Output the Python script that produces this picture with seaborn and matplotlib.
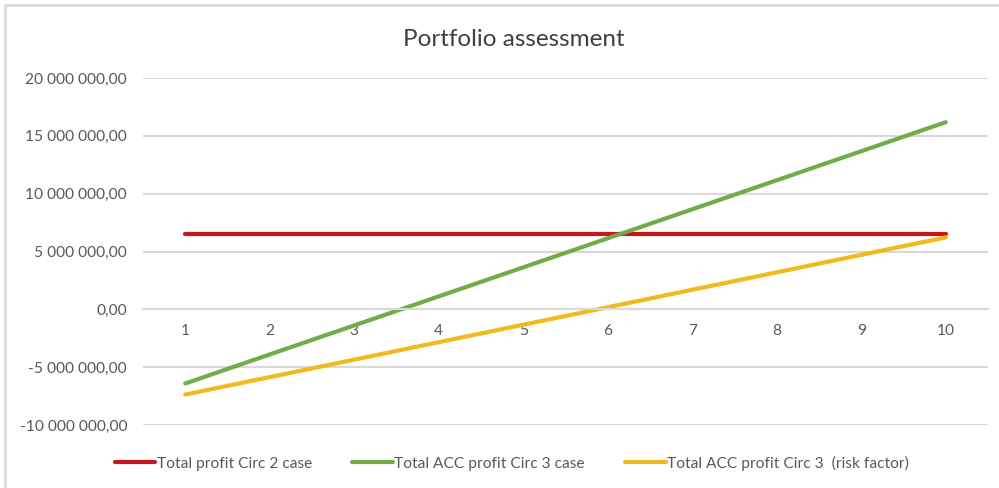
import matplotlib
matplotlib.use("Agg")
import matplotlib.pyplot as plt
from matplotlib.lines import Line2D
from matplotlib.ticker import FuncFormatter, MultipleLocator
import seaborn as sns
import pandas as pd

# ---- data ----
years = [1, 2, 3, 4, 5, 6, 7, 8, 9, 10]
circ2_profit = [6470000] * 10
circ3_acc_profit = [-6410000, -3900000, -1390000, 1120000, 3630000,
                    6140000, 8650000, 11160000, 13670000, 16180000]
circ3_risk_profit = [-7370000, -5860000, -4350000, -2840000, -1330000,
                     180000, 1690000, 3200000, 4710000, 6220000]
series_names = ["Total profit Circ 2 case",
                "Total ACC profit Circ 3 case",
                "Total ACC profit Circ 3  (risk factor)"]
colors = ["#C8161E", "#70AD47", "#F0BA1E"]
title = "Portfolio assessment"

df = pd.DataFrame({
    "year": years * 3,
    "value": circ2_profit + circ3_acc_profit + circ3_risk_profit,
    "series": [series_names[0]] * 10 + [series_names[1]] * 10 + [series_names[2]] * 10,
})

sns.set_theme(style="white")
plt.rcParams["font.family"] = ["Lato", "DejaVu Sans"]
text_color = "#595959"
grid_color = "#D9D9D9"
fs = 11.2

fig = plt.figure(figsize=(9.99, 4.88), dpi=100)
ax = fig.add_axes([143 / 999, 1 - 425 / 488, (988 - 143) / 999, (425 - 78) / 488])

sns.lineplot(data=df, x="year", y="value", hue="series", hue_order=series_names,
             palette=colors, linewidth=3.0, ax=ax, legend=False,
             solid_capstyle="round")

ax.set_xlim(0.5, 10.5)
ax.set_ylim(-10000000, 20000000)
ax.yaxis.set_major_locator(MultipleLocator(5000000))
ax.set_xticks(years)
ax.set_xticklabels([str(y) for y in years])

def fmt(v, pos):
    s = f"{abs(v):,.2f}".replace(",", " ").replace(".", ",")
    return ("-" if v < 0 else "") + s

ax.yaxis.set_major_formatter(FuncFormatter(fmt))
ax.grid(axis="y", color=grid_color, linewidth=1.5)
ax.set_axisbelow(True)
for side in ["top", "right", "left"]:
    ax.spines[side].set_visible(False)
ax.spines["bottom"].set_position(("data", 0))
ax.spines["bottom"].set_color(grid_color)
ax.spines["bottom"].set_linewidth(1.5)
ax.tick_params(axis="y", length=0, pad=11.5, labelsize=fs, labelcolor=text_color)
ax.tick_params(axis="x", length=0, pad=10.5, labelsize=fs, labelcolor=text_color)
ax.set_xlabel("")
ax.set_ylabel("")

fig.text(514 / 999, 1 - 40 / 488, title, ha="center", va="center",
         fontsize=17.5, color="#404040")

handles = [Line2D([0], [0], color=c, linewidth=3.0, solid_capstyle="round") for c in colors]
fig.legend(handles, series_names, loc="center", ncol=3,
           bbox_to_anchor=(512 / 999, 1 - 463 / 488), frameon=False,
           fontsize=fs, labelcolor=text_color, handlelength=2.6,
           handletextpad=0.1, columnspacing=2.6)

# chart-area border (top and left visible)
fig.add_artist(Line2D([5 / 999, 1], [1 - 5 / 488, 1 - 5 / 488], color=grid_color,
                      linewidth=2, transform=fig.transFigure))
fig.add_artist(Line2D([5 / 999, 5 / 999], [0, 1 - 5 / 488], color=grid_color,
                      linewidth=2, transform=fig.transFigure))

fig.savefig("out.png", dpi=100)
